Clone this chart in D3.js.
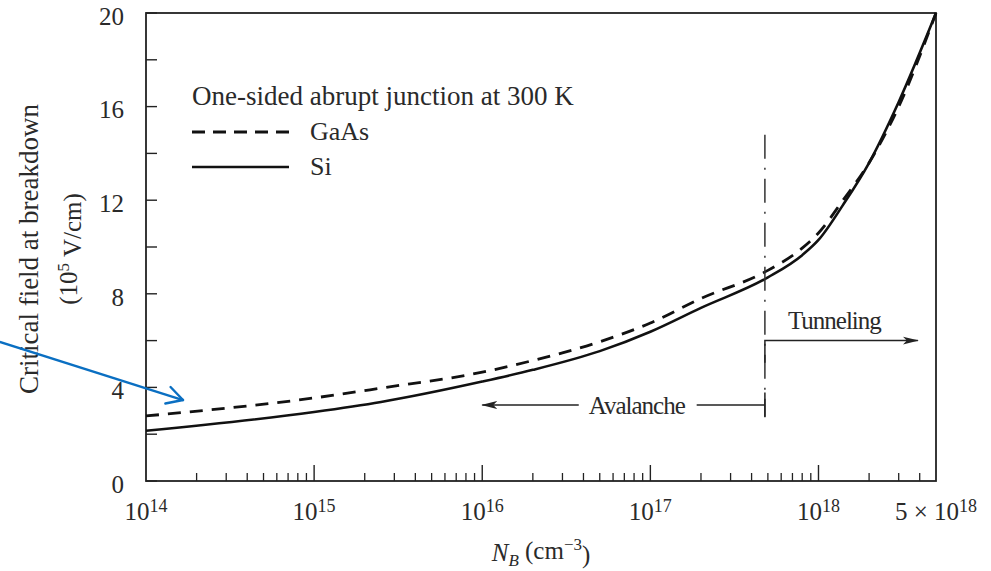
<!DOCTYPE html>
<html>
<head>
<meta charset="utf-8">
<script src="https://cdn.jsdelivr.net/npm/d3@7"></script>
<style>
  html, body { margin: 0; padding: 0; background: #fff; }
  #chart { width: 991px; height: 571px; }
  text { font-family: "Liberation Serif", "DejaVu Serif", serif; fill: #2a2a2a; }
</style>
</head>
<body>
<div id="chart"></div>
<script>
// doping concentration N_B (cm^-3) and breakdown field (10^5 V/cm)
const dopingN   = [1e14, 1e15, 2.5e15, 1e16, 2e16, 5e16, 1e17, 2e17, 5e17, 8e17, 1e18, 1.4e18, 2e18, 3e18, 5e18];
const siField   = [2.15, 2.95, 3.38, 4.25, 4.75, 5.55, 6.38, 7.4, 8.7, 9.65, 10.3, 11.8, 13.6, 16.2, 20];
const gaasField = [2.78, 3.55, 3.97, 4.65, 5.15, 5.95, 6.75, 7.8, 9.0, 9.95, 10.6, 12.0, 13.6, 16.0, 20];

// axis ticks
const yLabelTicks = [0, 4, 8, 12, 16, 20];
const yMinorTicks = [2, 6, 10, 14, 18];
const xMajorTicks = [1e14, 1e15, 1e16, 1e17, 1e18];
const xTickLabels = [
  { n: 1e14, pre: "10", exp: "14" },
  { n: 1e15, pre: "10", exp: "15" },
  { n: 1e16, pre: "10", exp: "16" },
  { n: 1e17, pre: "10", exp: "17" },
  { n: 1e18, pre: "10", exp: "18" },
  { n: 5e18, pre: "5 \u00d7 10", exp: "18" }
];

// avalanche / tunneling boundary
const boundaryN = 4.8e17;

function drawChart() {
  const width = 991, height = 571;
  const margin = { top: 13, right: 55, bottom: 90, left: 146 };
  const innerW = width - margin.left - margin.right;
  const innerH = height - margin.top - margin.bottom;

  const svg = d3.select("#chart").append("svg")
    .attr("width", width)
    .attr("height", height);

  svg.append("rect").attr("width", width).attr("height", height).attr("fill", "#fff");

  const x = d3.scaleLog().domain([1e14, 5e18]).range([margin.left, margin.left + innerW]);
  const y = d3.scaleLinear().domain([0, 20]).range([margin.top + innerH, margin.top]);

  const ink = "#222";

  // frame
  svg.append("rect")
    .attr("x", margin.left).attr("y", margin.top)
    .attr("width", innerW).attr("height", innerH)
    .attr("fill", "none").attr("stroke", ink).attr("stroke-width", 1.8);

  // y ticks (inward)
  svg.selectAll(".ytick")
    .data(yLabelTicks.concat(yMinorTicks))
    .enter().append("line")
    .attr("x1", margin.left).attr("x2", margin.left + 11)
    .attr("y1", d => y(d)).attr("y2", d => y(d))
    .attr("stroke", ink).attr("stroke-width", 1.4);

  svg.selectAll(".ylabel")
    .data(yLabelTicks)
    .enter().append("text")
    .attr("x", 124)
    .attr("y", d => y(d) + 3)
    .attr("dy", "0.35em")
    .attr("text-anchor", "end")
    .style("font-size", "25px")
    .text(d => d);

  // x ticks: decades long, 2..9 short
  const xMinor = [];
  xMajorTicks.forEach(dec => {
    for (let k = 2; k <= 9; k++) {
      if (dec * k < 5e18) xMinor.push(dec * k);
    }
  });
  const yBase = y(0);
  svg.selectAll(".xmajor")
    .data(xMajorTicks.slice(1))
    .enter().append("line")
    .attr("x1", d => x(d)).attr("x2", d => x(d))
    .attr("y1", yBase).attr("y2", yBase - 16)
    .attr("stroke", ink).attr("stroke-width", 1.4);
  svg.selectAll(".xminor")
    .data(xMinor)
    .enter().append("line")
    .attr("x1", d => x(d)).attr("x2", d => x(d))
    .attr("y1", yBase).attr("y2", yBase - 8)
    .attr("stroke", ink).attr("stroke-width", 1.3);

  const xl = svg.selectAll(".xlabel")
    .data(xTickLabels)
    .enter().append("text")
    .attr("x", d => x(d.n))
    .attr("y", 520)
    .attr("text-anchor", "middle")
    .style("font-size", "25px");
  xl.append("tspan").text(d => d.pre);
  xl.append("tspan").attr("dy", "-0.45em").style("font-size", "18px").text(d => d.exp);

  // axis titles
  const xt = svg.append("text")
    .attr("x", margin.left + innerW / 2)
    .attr("y", 561)
    .attr("text-anchor", "middle")
    .style("font-size", "25px");
  xt.append("tspan").style("font-style", "italic").text("N");
  xt.append("tspan").attr("dy", "0.3em").style("font-style", "italic").style("font-size", "17px").text("B");
  xt.append("tspan").attr("dy", "-0.3em").text(" (cm");
  xt.append("tspan").attr("dy", "-0.5em").style("font-size", "17px").text("\u22123");
  xt.append("tspan").attr("dy", "0.5em").text(")");

  const yMid = margin.top + innerH / 2 + 2;
  svg.append("text")
    .attr("transform", `translate(38,${yMid}) rotate(-90)`)
    .attr("text-anchor", "middle")
    .style("font-size", "27px")
    .text("Critical field at breakdown");

  const yt2 = svg.append("text")
    .attr("transform", `translate(77,${yMid}) rotate(-90)`)
    .attr("text-anchor", "middle")
    .style("font-size", "25px");
  yt2.append("tspan").text("(10");
  yt2.append("tspan").attr("dy", "-0.45em").style("font-size", "17px").text("5");
  yt2.append("tspan").attr("dy", "0.45em").text(" V/cm)");

  // curves
  const line = d3.line()
    .x(d => x(d[0]))
    .y(d => y(d[1]))
    .curve(d3.curveMonotoneX);

  svg.append("path")
    .datum(dopingN.map((n, i) => [n, siField[i]]))
    .attr("d", line)
    .attr("fill", "none").attr("stroke", "#111").attr("stroke-width", 2.6);

  svg.append("path")
    .datum(dopingN.map((n, i) => [n, gaasField[i]]))
    .attr("d", line)
    .attr("fill", "none").attr("stroke", "#111").attr("stroke-width", 2.8)
    .attr("stroke-dasharray", "13,9");

  // legend
  const lg = svg.append("g").attr("transform", `translate(${margin.left + 46},0)`);
  lg.append("text").attr("x", 0).attr("y", 105).style("font-size", "27px")
    .text("One-sided abrupt junction at 300 K");
  lg.append("line").attr("x1", 0).attr("x2", 97).attr("y1", 132).attr("y2", 132)
    .attr("stroke", "#111").attr("stroke-width", 2.8).attr("stroke-dasharray", "13,8");
  lg.append("text").attr("x", 118).attr("y", 140).style("font-size", "26px").text("GaAs");
  lg.append("line").attr("x1", 0).attr("x2", 97).attr("y1", 167).attr("y2", 167)
    .attr("stroke", "#111").attr("stroke-width", 2.6);
  lg.append("text").attr("x", 118).attr("y", 175).style("font-size", "26px").text("Si");

  // boundary dash-dot line
  const xb = x(boundaryN);
  svg.append("line")
    .attr("x1", xb).attr("x2", xb)
    .attr("y1", y(14.8)).attr("y2", y(2.75))
    .attr("stroke", "#333").attr("stroke-width", 1.5)
    .attr("stroke-dasharray", "24,9,2,9");

  const defs = svg.append("defs");
  defs.append("marker")
    .attr("id", "head")
    .attr("viewBox", "0 0 16 10")
    .attr("refX", 15).attr("refY", 5)
    .attr("markerWidth", 16).attr("markerHeight", 10)
    .attr("markerUnits", "userSpaceOnUse")
    .attr("orient", "auto")
    .append("path")
    .attr("d", "M0,1 L16,5 L0,9 L4,5 Z")
    .attr("fill", "#222");

  // tunneling
  svg.append("path")
    .attr("d", `M${xb},${y(5.05)} L${xb},${y(6.0)} L${x(3.9e18)},${y(6.0)}`)
    .attr("fill", "none").attr("stroke", "#222").attr("stroke-width", 1.5)
    .attr("marker-end", "url(#head)");
  svg.append("text")
    .attr("x", xb + 23).attr("y", y(6.0) - 12)
    .style("font-size", "25px").style("letter-spacing", "-1px")
    .text("Tunneling");

  // avalanche
  const avY = y(3.25);
  const avText = svg.append("text")
    .attr("x", x(8.3e16)).attr("y", avY + 9)
    .attr("text-anchor", "middle")
    .style("font-size", "25px").style("letter-spacing", "-1px")
    .text("Avalanche");
  const bb = avText.node().getBBox();
  svg.append("line")
    .attr("x1", xb).attr("x2", xb)
    .attr("y1", y(3.78)).attr("y2", y(2.72))
    .attr("stroke", "#222").attr("stroke-width", 1.5);
  svg.append("line")
    .attr("x1", xb).attr("x2", bb.x + bb.width + 11)
    .attr("y1", avY).attr("y2", avY)
    .attr("stroke", "#222").attr("stroke-width", 1.5);
  svg.append("line")
    .attr("x1", bb.x - 10).attr("x2", x(1e16))
    .attr("y1", avY).attr("y2", avY)
    .attr("stroke", "#222").attr("stroke-width", 1.5)
    .attr("marker-end", "url(#head)");

  // blue pointer arrow
  const p0 = [x(1.35e13), y(5.94)];
  const p1 = [x(1.66e14), y(3.46)];
  const blue = "#0a6fc2";
  svg.append("line")
    .attr("x1", p0[0]).attr("y1", p0[1]).attr("x2", p1[0]).attr("y2", p1[1])
    .attr("stroke", blue).attr("stroke-width", 2.4);
  const ang = Math.atan2(p0[1] - p1[1], p0[0] - p1[0]);
  [-0.5, 0.5].forEach(da => {
    svg.append("line")
      .attr("x1", p1[0]).attr("y1", p1[1])
      .attr("x2", p1[0] + 18 * Math.cos(ang + da))
      .attr("y2", p1[1] + 18 * Math.sin(ang + da))
      .attr("stroke", blue).attr("stroke-width", 2.4).attr("stroke-linecap", "round");
  });
}

window.addEventListener("DOMContentLoaded", () => {
  drawChart();
});
</script>
</body>
</html>
